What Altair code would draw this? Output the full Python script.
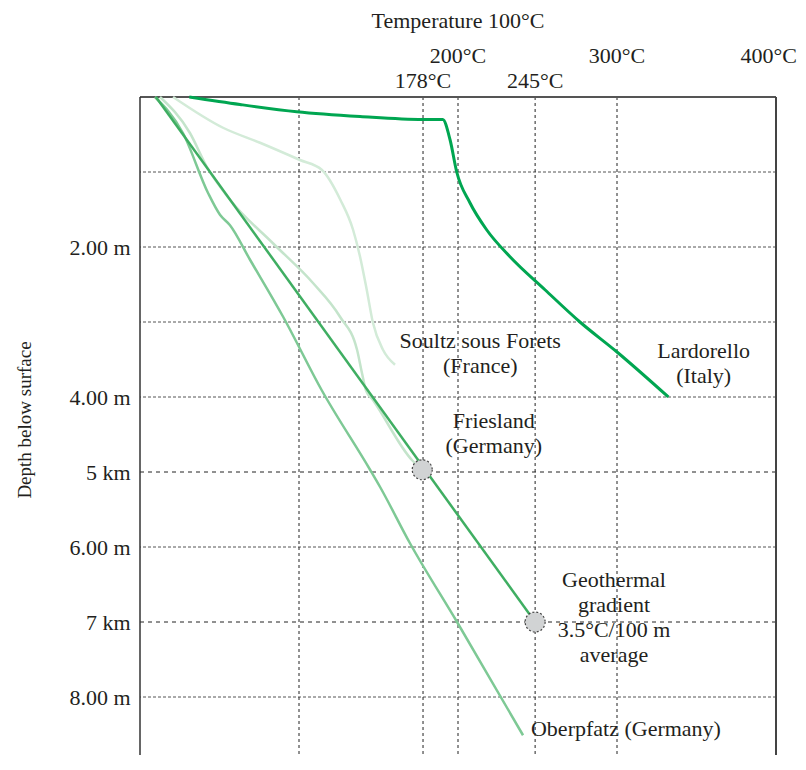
import altair as alt
import pandas as pd

# ---------------- data (temperature in degC, depth in km) ----------------
lard_T = [31.0, 62.9, 98.6, 138.4, 178.0, 190.4, 195.0, 199.2, 207.5, 218.0, 232.7, 254.7, 276.7, 300.0, 332.3]
lard_d = [0.00, 0.10, 0.196, 0.26, 0.30, 0.30, 0.57, 1.00, 1.41, 1.77, 2.13, 2.57, 3.00, 3.40, 4.00]

soultz_T = [20.8, 52.2, 75.5, 100.6, 114.3, 126.0, 134.0, 138.4, 142.6, 146.5, 152.8, 160.4]
soultz_d = [0.00, 0.41, 0.61, 0.84, 0.97, 1.37, 1.77, 2.13, 2.57, 3.01, 3.37, 3.57]

fries_T = [12.6, 31.4, 42.0, 56.6, 83.6, 108.8, 125.8, 136.5, 139.6, 142.1, 146.5, 171.0, 177.5]
fries_d = [0.00, 0.48, 0.93, 1.37, 1.95, 2.48, 2.93, 3.37, 3.68, 3.91, 4.04, 4.84, 4.97]

ober_T = [9.4, 27.0, 42.8, 50.3, 56.6, 69.2, 90.0, 114.3, 144.7, 151.0, 169.8, 199.4, 240.9]
ober_d = [0.00, 0.48, 1.28, 1.57, 1.71, 2.17, 2.93, 3.91, 4.97, 5.20, 5.95, 7.00, 8.51]

grad_T = [10.0, 248.5]
grad_d = [0.00, 7.00]

marker_T = [177.5, 248.5]
marker_d = [4.97, 7.00]

# grid / ticks
grid_depth_minor = [1, 2, 3, 4, 6, 8]
grid_depth_major = [5, 7]
grid_temp = [100, 178, 200, 248.5, 300]
y_tick_values = [2, 4, 5, 6, 7, 8]
y_tick_labels = ["2.00 m", "4.00 m", "5 km", "6.00 m", "7 km", "8.00 m"]
top_row_T = [200, 300]
top_row_labels = ["200°C", "300°C"]
edge_T = [400]
edge_labels = ["400°C"]
low_row_T = [178, 248.5]
low_row_labels = ["178°C", "245°C"]

# annotations
ann_text = ["Soultz sous Forets", "(France)", "Lardorello", "(Italy)", "Friesland", "(Germany)",
            "Geothermal", "gradient", "3.5°C/100 m", "average"]
ann_T = [214.0, 214.0, 354.5, 354.5, 222.5, 222.5, 298.1, 298.1, 298.1, 298.1]
ann_d = [3.351, 3.684, 3.48, 3.813, 4.417, 4.751, 6.529, 6.863, 7.196, 7.529]

FONT = "Liberation Serif"
TXT = "#231f20"
FS = 22

xs = alt.Scale(domain=[0, 400], nice=False, zero=False)
ys = alt.Scale(domain=[0, 8.7733], nice=False, zero=False, reverse=True)

label_map = " ".join(
    f"datum.value == {v} ? '{l}' :" for v, l in zip(y_tick_values, y_tick_labels)
) + " ''"
yaxis = alt.Axis(values=y_tick_values, labelExpr=label_map, domain=False, ticks=False,
                 grid=False, labelPadding=10, labelFont=FONT, labelFontSize=FS,
                 labelColor=TXT, title=None)


def X(f="T"):
    return alt.X(f"{f}:Q", scale=xs, axis=None)


def Y(f="d"):
    return alt.Y(f"{f}:Q", scale=ys, axis=yaxis)


layers = []

# horizontal grid
layers.append(alt.Chart(pd.DataFrame({"d": grid_depth_minor})).mark_rule(
    color="#555", strokeWidth=1, strokeDash=[3, 2]).encode(y=Y()))
layers.append(alt.Chart(pd.DataFrame({"d": grid_depth_major})).mark_rule(
    color="#222", strokeWidth=1, strokeDash=[4, 4]).encode(y=Y()))
# vertical grid
layers.append(alt.Chart(pd.DataFrame({"T": grid_temp})).mark_rule(
    color="#222", strokeWidth=1, strokeDash=[3, 3]).encode(x=X()))

# frame
layers.append(alt.Chart(pd.DataFrame({"d": [0]})).mark_rule(
    color="#555", strokeWidth=2).encode(y=Y()))
layers.append(alt.Chart(pd.DataFrame({"T": [0]})).mark_rule(
    color="#333", strokeWidth=1.5).encode(x=X()))
layers.append(alt.Chart(pd.DataFrame({"T": [400]})).mark_rule(
    color="#444", strokeWidth=2).encode(x=X()))

# curves
series = [
    ("Soultz", soultz_T, soultz_d, "#d3ebd8", 2.5),
    ("Friesland", fries_T, fries_d, "#c4e4cb", 2.5),
    ("Oberpfatz", ober_T, ober_d, "#7ec995", 2.5),
    ("Gradient", grad_T, grad_d, "#3fae62", 2.5),
    ("Lardorello", lard_T, lard_d, "#00a651", 3),
]
for name, T, d, col, w in series:
    df = pd.DataFrame({"T": T, "d": d, "i": list(range(len(T)))})
    layers.append(alt.Chart(df).mark_line(color=col, strokeWidth=w, interpolate="monotone").encode(
        x=X(), y=Y(), order="i:Q"))

# markers
layers.append(alt.Chart(pd.DataFrame({"T": marker_T, "d": marker_d})).mark_point(
    shape="circle", filled=True, fill="#d1d3d4", fillOpacity=1, stroke="#444",
    strokeWidth=1.2, strokeDash=[2, 2], size=400, opacity=1).encode(x=X(), y=Y()))

# annotations
layers.append(alt.Chart(pd.DataFrame({"T": ann_T, "d": ann_d, "t": ann_text})).mark_text(
    font=FONT, fontSize=FS, color=TXT, align="center", baseline="alphabetic").encode(
    x=X(), y=Y(), text="t:N"))
layers.append(alt.Chart(pd.DataFrame({"T": [245.9], "d": [8.52], "t": ["Oberpfatz (Germany)"]})).mark_text(
    font=FONT, fontSize=FS, color=TXT, align="left", baseline="alphabetic").encode(
    x=X(), y=Y(), text="t:N"))

# top temperature labels
layers.append(alt.Chart(pd.DataFrame({"T": top_row_T, "t": top_row_labels})).mark_text(
    font=FONT, fontSize=FS, color=TXT, align="center", baseline="alphabetic").encode(
    x=X(), y=alt.value(-34), text="t:N"))
layers.append(alt.Chart(pd.DataFrame({"T": edge_T, "t": edge_labels})).mark_text(
    font=FONT, fontSize=FS, color=TXT, align="right", baseline="alphabetic", dx=21).encode(
    x=X(), y=alt.value(-34), text="t:N"))
layers.append(alt.Chart(pd.DataFrame({"T": low_row_T, "t": low_row_labels})).mark_text(
    font=FONT, fontSize=FS, color=TXT, align="center", baseline="alphabetic").encode(
    x=X(), y=alt.value(-9), text="t:N"))
layers.append(alt.Chart(pd.DataFrame({"T": [200], "t": ["Temperature 100°C"]})).mark_text(
    font=FONT, fontSize=FS, color=TXT, align="center", baseline="alphabetic").encode(
    x=X(), y=alt.value(-69), text="t:N"))
# y title
layers.append(alt.Chart(pd.DataFrame({"t": ["Depth below surface"]})).mark_text(
    font=FONT, fontSize=19, color=TXT, align="center", baseline="middle", angle=270).encode(
    x=alt.value(-115), y=alt.value(323), text="t:N"))

chart = alt.layer(*layers).properties(
    width=636, height=658,
    autosize=alt.AutoSizeParams(type="none"),
    padding={"left": 132, "top": 89, "right": 22, "bottom": 0},
).configure_view(stroke=None)

chart.save("out.html", embed_options={"renderer": "svg", "actions": False})
